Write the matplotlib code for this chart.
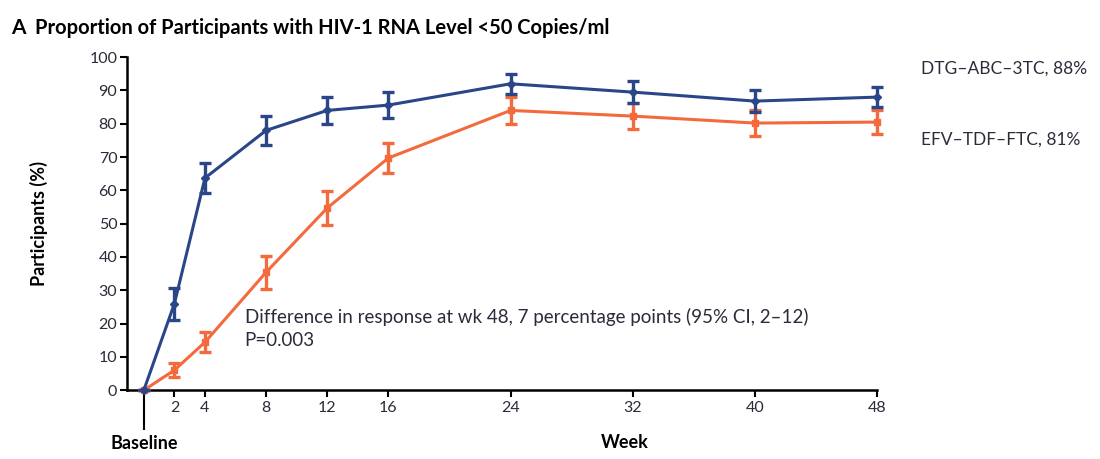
import matplotlib
matplotlib.use("Agg")
import matplotlib.pyplot as plt

plt.rcParams['font.family'] = ['Lato', 'DejaVu Sans']

weeks = [0, 2, 4, 8, 12, 16, 24, 32, 40, 48]
week_labels = ['2', '4', '8', '12', '16', '24', '32', '40', '48']

dtg = [0, 26, 63.7, 78, 84, 85.6, 92, 89.5, 86.8, 88]
dtg_err = [0, 4.8, 4.6, 4.3, 4, 3.8, 3, 3.2, 3.2, 3]
efv = [0, 6, 14.4, 35.4, 54.7, 69.7, 84, 82.3, 80.2, 80.5]
efv_err = [0, 2.2, 3, 5, 5, 4.5, 4, 4, 4, 3.5]

blue = '#2a4688'
orange = '#f36b3c'
text_c = '#2b2b3a'

fig = plt.figure(figsize=(11, 4.59), dpi=100)
ax = fig.add_axes([0.1155, 0.150, 0.682, 0.7255])

ax.errorbar(weeks, efv, yerr=efv_err, color=orange, lw=2.2, marker='s', ms=5,
            capsize=4, capthick=2.4, elinewidth=2.4, zorder=3, clip_on=False)
ax.errorbar(weeks, dtg, yerr=dtg_err, color=blue, lw=2.2, marker='D', ms=4,
            capsize=4, capthick=2.4, elinewidth=2.4, zorder=4, clip_on=False)

ax.set_xlim(-1.1, 48)
ax.set_ylim(0, 100)
ax.set_yticks(range(0, 101, 10))
ax.set_xticks(weeks[1:])
ax.set_xticklabels(week_labels)
# baseline gets its own long tick
ax.set_xticks([0], minor=True)
ax.set_xticklabels(['Baseline'], minor=True)
ax.tick_params(axis='x', which='minor', length=29, width=1.5, pad=3,
               labelsize=13, labelcolor='black')
for lab in ax.get_xminorticklabels():
    lab.set_fontweight('bold')
ax.tick_params(axis='x', which='major', length=5, width=1.5, pad=3,
               labelsize=11.5, labelcolor=text_c)
ax.tick_params(axis='y', length=5, width=1.5, pad=2, labelsize=11.5,
               labelcolor=text_c)

for s in ['top', 'right']:
    ax.spines[s].set_visible(False)
for s in ['left', 'bottom']:
    ax.spines[s].set_linewidth(1.8)

ax.set_ylabel('Participants (%)', fontsize=13, fontweight='bold', labelpad=30)
fig.text(0.568, 0.025, 'Week', fontsize=13, fontweight='bold', ha='center')

fig.text(0.010, 0.94, 'A', fontsize=15, fontweight='bold', va='center')
fig.text(0.032, 0.94, 'Proportion of Participants with HIV-1 RNA Level <50 Copies/ml',
         fontsize=14.5, fontweight='bold', va='center')

fig.text(0.837, 0.85, 'DTG\u2013ABC\u20133TC, 88%', fontsize=12.5, color=text_c,
         va='center')
fig.text(0.837, 0.695, 'EFV\u2013TDF\u2013FTC, 81%', fontsize=12.5, color=text_c,
         va='center')

ax.text(6.6, 22, 'Difference in response at wk 48, 7 percentage points (95% CI, 2\u201312)',
        fontsize=13.5, color=text_c, va='center')
ax.text(6.6, 15, 'P=0.003', fontsize=13.5, color=text_c, va='center')

fig.savefig('out.png', dpi=100)
